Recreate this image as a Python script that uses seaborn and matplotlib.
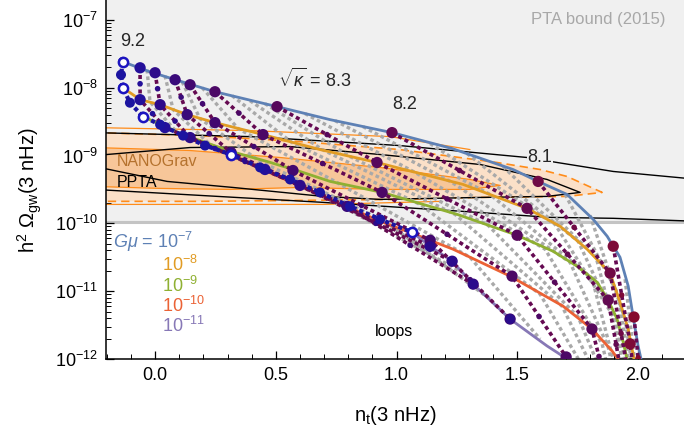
import numpy as np
import matplotlib
matplotlib.use("Agg")
import matplotlib.pyplot as plt
from matplotlib.ticker import MultipleLocator, FixedLocator, NullFormatter, FormatStrFormatter, LogFormatterMathtext
import seaborn as sns

# ---------------- data (n_t, log10 h^2 Omega_gw) ----------------
# G mu = const lines
gmu_labels = ["10$^{-7}$", "10$^{-8}$", "10$^{-9}$", "10$^{-10}$", "10$^{-11}$"]
gmu_colors = ["#5e81b5", "#e19c24", "#8fb032", "#eb6235", "#8778b6"]

gmu7_x = [-0.133, -0.021, 0.124, 0.248, 0.505, 0.725, 0.981, 1.230, 1.482, 1.586, 1.706, 1.814, 1.872, 1.925, 1.959, 1.979, 2.000, 2.012]
gmu7_L = [-7.618, -7.765, -7.926, -8.059, -8.279, -8.471, -8.662, -8.897, -9.206, -9.382, -9.574, -9.941, -10.191, -10.500, -10.926, -11.368, -11.809, -12.0]
gmu8_x = [-0.133, -0.062, 0.021, 0.133, 0.248, 0.447, 0.683, 0.919, 1.097, 1.275, 1.540, 1.677, 1.789, 1.884, 1.925, 1.959, 1.983]
gmu8_L = [-8.000, -8.176, -8.250, -8.397, -8.515, -8.691, -8.912, -9.103, -9.265, -9.426, -9.779, -10.044, -10.382, -10.735, -11.162, -11.559, -12.0]
gmu9_x = [-0.050, 0.116, 0.315, 0.464, 0.600, 0.725, 0.940, 1.251, 1.499, 1.648, 1.747, 1.830, 1.876, 1.913, 1.938, 1.954]
gmu9_L = [-8.426, -8.691, -8.941, -9.088, -9.235, -9.382, -9.544, -9.868, -10.176, -10.412, -10.632, -10.868, -11.132, -11.412, -11.750, -12.0]
gmu10_x = [0.315, 0.464, 0.654, 0.766, 0.932, 1.064, 1.234, 1.470, 1.689, 1.809, 1.892, 1.917]
gmu10_L = [-8.985, -9.235, -9.529, -9.706, -9.971, -10.147, -10.382, -10.779, -11.221, -11.559, -11.882, -12.0]
gmu11_x = [1.064, 1.139, 1.230, 1.317, 1.470, 1.623, 1.706]
gmu11_L = [-10.132, -10.338, -10.559, -10.897, -11.412, -11.809, -12.0]

# sqrt(kappa) = 9.2 boundary curve (white circles at G mu = 1e-7 ... 1e-11)
k92_x = [-0.133, -0.141, -0.133, -0.104, -0.050, 0.021, 0.116, 0.207, 0.315, 0.435, 0.559, 0.683, 0.807, 0.932, 1.064]
k92_L = [-7.618, -7.809, -8.000, -8.221, -8.426, -8.544, -8.706, -8.853, -8.985, -9.176, -9.353, -9.544, -9.750, -9.941, -10.132]
white_x = [-0.133, -0.133, -0.050, 0.315, 1.064]
white_L = [-7.618, -8.000, -8.426, -8.985, -10.132]

# sqrt(kappa) = const curves (points at G mu = 1e-7, 1e-8, ... )
kappa_vals = [9.0, 8.8, 8.6, 8.5, 8.4, 8.3, 8.2, 8.1, 8.0, 7.9]
kappa_x = [
    [-0.062, -0.062, 0.041, 0.455, 1.139],
    [0.000, 0.021, 0.145, 0.600, 1.230],
    [0.083, 0.133, 0.315, 0.795, 1.317],
    [0.145, 0.248, 0.571, 1.139, 1.470],
    [0.248, 0.447, 0.940, 1.478, 1.702],
    [0.505, 0.919, 1.499, 1.809, 1.867],
    [0.981, 1.540, 1.876, 1.942],
    [1.586, 1.884, 1.975],
    [1.897, 1.967, 1.996],
    [1.983, 2.017],
]
kappa_L = [
    [-7.706, -8.176, -8.588, -9.206, -10.338],
    [-7.779, -8.250, -8.735, -9.441, -10.559],
    [-7.882, -8.397, -8.956, -9.750, -10.897],
    [-7.956, -8.515, -9.221, -10.250, -11.412],
    [-8.059, -8.691, -9.544, -10.779, -11.971],
    [-8.279, -9.103, -10.176, -11.559, -12.368],
    [-8.662, -9.779, -11.132, -12.441],
    [-9.382, -10.735, -12.515],
    [-10.338, -11.779, -12.588],
    [-11.382, -12.588],
]
kappa_dot_colors = ["#24109a", "#2e0b8a", "#3a0a7a", "#42086f", "#4c0866",
                    "#57085c", "#630a52", "#700a45", "#7d0a38", "#860a2e"]

# intermediate kappa curves (gray dashed)
fine_x = [
    [-0.033, -0.021, 0.091, 0.526, 1.180],
    [0.041, 0.075, 0.228, 0.692, 1.271],
    [0.112, 0.186, 0.435, 0.952, 1.387],
    [0.195, 0.344, 0.745, 1.304, 1.594],
    [0.319, 0.567, 1.097, 1.594, 1.801],
    [0.393, 0.692, 1.242, 1.685, 1.843],
    [0.455, 0.807, 1.379, 1.752, 1.876],
    [0.621, 1.077, 1.615, 1.851, 1.905],
    [0.745, 1.230, 1.718, 1.876, 1.925],
    [0.861, 1.387, 1.809, 1.934],
    [1.139, 1.656, 1.905, 1.959],
    [1.292, 1.752, 1.930, 1.967],
    [1.441, 1.826, 1.979],
    [1.698, 1.917, 1.983],
    [1.801, 1.946, 1.996],
    [1.946, 2.004],
]
fine_L = [
    [-7.735, -8.206, -8.662, -9.324, -10.441],
    [-7.823, -8.324, -8.838, -9.588, -10.721],
    [-7.912, -8.456, -9.088, -9.971, -11.118],
    [-8.000, -8.603, -9.382, -10.500, -11.706],
    [-8.118, -8.809, -9.721, -11.044, -12.294],
    [-8.191, -8.912, -9.868, -11.221, -12.368],
    [-8.235, -9.015, -10.029, -11.382, -12.441],
    [-8.382, -9.250, -10.382, -11.779, -12.588],
    [-8.485, -9.397, -10.574, -11.824, -12.588],
    [-8.574, -9.574, -10.809, -12.515],
    [-8.824, -10.015, -11.412, -12.588],
    [-8.971, -10.265, -11.632, -12.588],
    [-9.162, -10.500, -12.588],
    [-9.574, -11.044, -12.588],
    [-9.882, -11.412, -12.588],
    [-10.824, -12.588],
]

# NANOGrav region (outer and inner) and PPTA / other black contours
ng_out_x = [-0.25, 0.186, 0.600, 1.014, 1.416, 1.594, 1.706, 1.851, 1.706, 1.346, 1.014, 0.600, 0.186, -0.25]
ng_out_L = [-8.662, -8.706, -8.794, -8.912, -9.103, -9.206, -9.309, -9.544, -9.603, -9.618, -9.647, -9.662, -9.676, -9.676]
ng_in_x = [-0.25, 0.145, 0.518, 0.932, 1.304, 1.429, 1.304, 0.932, 0.600, 0.311, 0.021, -0.25]
ng_in_L = [-8.882, -8.926, -9.029, -9.176, -9.353, -9.441, -9.500, -9.500, -9.471, -9.500, -9.485, -9.456]
ng_top_x = [-0.25, 0.393, 0.973, 1.304]
ng_top_L = [-8.588, -8.632, -8.721, -8.912]
ng_bot_x = [-0.25, 0.696, 1.180]
ng_bot_L = [-9.721, -9.721, -9.676]

blkA_x = [-0.25, 0.393, 1.014, 1.540, 1.665, 1.897, 2.25]
blkA_L = [-8.662, -8.721, -8.853, -9.029, -9.103, -9.235, -9.353]
blkB_x = [-0.25, 0.145, 0.559, 0.932, 1.346, 1.623, 1.760, 1.623, 1.346, 0.932, 0.696, 0.323, 0.050, -0.25]
blkB_L = [-9.000, -8.882, -8.868, -8.985, -9.132, -9.353, -9.544, -9.603, -9.618, -9.647, -9.603, -9.471, -9.382, -9.162]
blkC_x = [-0.25, 0.696, 1.275, 1.636, 1.897, 2.25]
blkC_L = [-9.500, -9.691, -9.824, -9.912, -9.926, -9.971]

pta_bound = 1.03e-10
y_decades = [-12, -11, -10, -9, -8, -7]

# ---------------- style ----------------
sns.set_theme(style="white")
plt.rcParams["font.family"] = ["Liberation Sans", "DejaVu Sans"]
plt.rcParams["mathtext.fontset"] = "custom"
plt.rcParams["mathtext.rm"] = "Liberation Sans"
plt.rcParams["mathtext.it"] = "Liberation Sans:italic"
plt.rcParams["mathtext.bf"] = "Liberation Sans:bold"

fig = plt.figure(figsize=(6.84, 4.34), dpi=100)
ax = fig.add_axes([0.155, 0.173, 0.845, 0.827])
ax.set_yscale("log")
ax.set_xlim(-0.203, 2.19)
ax.set_ylim(1e-12, 10 ** -6.706)


def line(x, L, **kw):
    sns.lineplot(x=np.asarray(x), y=10 ** np.asarray(L), sort=False, estimator=None,
                 ax=ax, legend=False, **kw)


def dots(x, L, **kw):
    sns.scatterplot(x=np.asarray(x), y=10 ** np.asarray(L), ax=ax, legend=False,
                    edgecolor="none", **kw)


# background exclusion band
ax.axhspan(pta_bound, 1e-5, color="#f0f0f0", zorder=0, lw=0)
ax.axhline(pta_bound, color="#c4c4c4", lw=2.2, zorder=0.5)

# NANOGrav regions
ax.fill(ng_out_x, 10 ** np.asarray(ng_out_L), color="#fbe0c8", lw=0, zorder=1)
ax.fill(ng_in_x, 10 ** np.asarray(ng_in_L), color="#f7c699", lw=0, zorder=1.1)
line(ng_out_x, ng_out_L, color="#ff8c1a", lw=1.2, linestyle=(0, (5, 3)), zorder=1.3)
line(ng_in_x, ng_in_L, color="#ff8c1a", lw=0.9, zorder=1.3)
line(ng_top_x, ng_top_L, color="#ff8c1a", lw=0.9, zorder=1.3)
line(ng_bot_x, ng_bot_L, color="#ff8c1a", lw=0.9, zorder=1.3)

# black contours
for bx, bL in [(blkA_x, blkA_L), (blkB_x, blkB_L), (blkC_x, blkC_L)]:
    line(bx, bL, color="black", lw=1.0, zorder=1.5)

# intermediate kappa curves
for fx, fL in zip(fine_x, fine_L):
    line(fx, fL, color="#a9a9a9", lw=2.4, linestyle=(0, (1.1, 0.9)), zorder=2)

# G mu lines
gx = [gmu7_x, gmu8_x, gmu9_x, gmu10_x, gmu11_x]
gL = [gmu7_L, gmu8_L, gmu9_L, gmu10_L, gmu11_L]
for x, L, c in zip(gx, gL, gmu_colors):
    line(x, L, color=c, lw=2.0, zorder=3)

# main kappa curves
for kx, kL, c in zip(kappa_x, kappa_L, kappa_dot_colors):
    line(kx, kL, color="#650a52", lw=2.6, linestyle=(0, (1.1, 0.9)), zorder=4)
    mx = (np.asarray(kx[:-1]) + np.asarray(kx[1:])) / 2
    mL = (np.asarray(kL[:-1]) + np.asarray(kL[1:])) / 2
    dots(mx, mL, color=c, s=16, zorder=5)
    dots(kx, kL, color=c, s=66, zorder=6)

# sqrt(kappa)=9.2 boundary
line(k92_x, k92_L, color="#1c14a0", lw=3.0, linestyle=(0, (1.0, 0.7)), zorder=4)
dots(k92_x, k92_L, color="#1c14a0", s=52, zorder=6)
dots(gmu11_x[:5], gmu11_L[:5], color="#2a0b8c", s=52, zorder=6)
sns.scatterplot(x=np.asarray(white_x), y=10 ** np.asarray(white_L), ax=ax, legend=False,
                color="white", edgecolor="#1c14c0", linewidth=1.8, s=44, zorder=7)

# texts
fs = 13
ax.text(-0.091, 10 ** -7.32, "9.2", fontsize=fs, ha="center", va="center")
ax.text(0.509, 10 ** -7.88, r"$\sqrt{\kappa}$ = 8.3", fontsize=fs, ha="left", va="center")
ax.text(1.035, 10 ** -8.25, "8.2", fontsize=fs, ha="center", va="center")
ax.text(1.594, 10 ** -9.03, "8.1", fontsize=fs, ha="center", va="center",
        bbox=dict(facecolor="#f0f0f0", edgecolor="none", pad=0.3), zorder=1.6)
ax.text(2.112, 10 ** -7.0, "PTA bound (2015)", fontsize=12, color="#a8a8a8",
        ha="right", va="center")
ax.text(-0.157, 10 ** -9.09, "NANOGrav", fontsize=11.5, color="#b5722d", ha="left", va="center", zorder=1.6)
ax.text(-0.157, 10 ** -9.40, "PPTA", fontsize=11.5, color="black", ha="left", va="center", zorder=1.6)
ax.text(0.911, 10 ** -11.6, "loops", fontsize=11.5, color="black", ha="left", va="center")

ax.text(-0.174, 10 ** -10.28, r"$G\mu$ = " + gmu_labels[0], fontsize=fs, color=gmu_colors[0], ha="left", va="center")
leg_L = [-10.62, -10.93, -11.22, -11.52]
for lab, c, Ly in zip(gmu_labels[1:], gmu_colors[1:], leg_L):
    ax.text(0.029, 10 ** Ly, lab, fontsize=fs, color=c, ha="left", va="center")

# axes styling
for s in ["top", "right"]:
    ax.spines[s].set_visible(False)
for s in ["left", "bottom"]:
    ax.spines[s].set_color("black")
    ax.spines[s].set_linewidth(1.1)
ax.xaxis.set_major_locator(MultipleLocator(0.5))
ax.xaxis.set_minor_locator(MultipleLocator(0.1))
ax.xaxis.set_major_formatter(FormatStrFormatter("%.1f"))
major_y = [10.0 ** d for d in y_decades]
minor_y = [m * 10.0 ** d for d in y_decades[:-1] for m in range(2, 10)] + [2e-7]
ax.yaxis.set_major_locator(FixedLocator(major_y))
ax.yaxis.set_minor_locator(FixedLocator(minor_y))
ax.yaxis.set_major_formatter(LogFormatterMathtext())
ax.yaxis.set_minor_formatter(NullFormatter())
ax.tick_params(which="both", direction="in", top=False, right=False, left=True, bottom=True,
               colors="black", labelsize=13)
ax.tick_params(which="major", length=6, width=0.9, pad=6)
ax.tick_params(which="minor", length=3.5, width=0.7)
ax.grid(False)

ax.set_xlabel(r"n$_\mathregular{t}$(3 nHz)", fontsize=14.5, color="black")
ax.set_ylabel(r"h$^\mathregular{2}$ $\Omega_\mathregular{gw}$(3 nHz)", fontsize=14.5, color="black")
ax.xaxis.set_label_coords(0.5, -0.125)
ax.yaxis.set_label_coords(-0.108, 0.47)

fig.savefig("out.png", dpi=100)
